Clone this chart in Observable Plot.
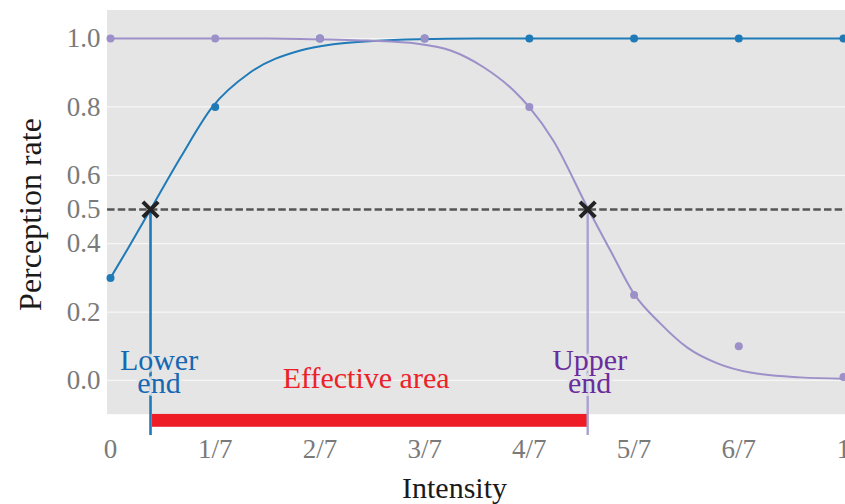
<!DOCTYPE html>
<html>
<head>
<meta charset="utf-8">
<script src="https://cdn.jsdelivr.net/npm/d3@7"></script>
<script src="https://cdn.jsdelivr.net/npm/@observablehq/plot@0.6"></script>
<style>
  html, body { margin: 0; padding: 0; background: #fff; }
  #chart svg { display: block; }
</style>
</head>
<body>
<div id="chart"></div>
<script>
// Stimulus intensities (sevenths) and their tick labels
const intensities = [0, 1/7, 2/7, 3/7, 4/7, 5/7, 6/7, 1];
const intensityLabels = ["0", "1/7", "2/7", "3/7", "4/7", "5/7", "6/7", "1"];

// Observed perception rates
const lowerRates = [0.30, 0.80, 1.00, 1.00, 1.00, 1.00, 1.00, 1.00];
const upperRates = [1.00, 1.00, 1.00, 1.00, 0.80, 0.25, 0.10, 0.01];

// Fitted psychometric curves, sampled along intensity
const lowerFitX = [0, 0.025, 0.0546, 0.0955, 0.139, 0.19, 0.259, 0.304, 0.359, 0.42, 0.5, 0.6, 0.8, 1.0];
const lowerFitY = [0.30, 0.39, 0.50, 0.652, 0.80, 0.90, 0.965, 0.983, 0.993, 0.998, 1.0, 1.0, 1.0, 1.0];
const upperFitX = [0, 0.1, 0.2, 0.259, 0.351, 0.419, 0.464, 0.509, 0.55, 0.571, 0.604, 0.652, 0.682, 0.714, 0.75, 0.787, 0.828, 0.873, 0.941, 1.0];
const upperFitY = [1.0, 1.0, 1.0, 0.999, 0.994, 0.985, 0.965, 0.916, 0.848, 0.80, 0.702, 0.50, 0.38, 0.254, 0.167, 0.096, 0.05, 0.023, 0.009, 0.005];

// Threshold and the intensities where each fit crosses it
const threshold = 0.5;
const lowerEnd = 0.0546;
const upperEnd = 0.651;

// Y axis ticks
const yTicks = [0, 0.2, 0.4, 0.5, 0.6, 0.8, 1.0];
const gridValues = [0, 0.2, 0.4, 0.6, 0.8, 1.0];

const BLUE = "#1f7ab8";
const PURPLE = "#9d90c9";
const BG = "#e5e5e5";

const yMin = -0.161, yMax = 1.082, panelBottom = -0.1;
const xLeft = -0.004, xRight = 1.01;

const lowerPts = intensities.map((x, i) => ({x, y: lowerRates[i]}));
const upperPts = intensities.map((x, i) => ({x, y: upperRates[i]}));
const lowerFit = lowerFitX.map((x, i) => ({x, y: lowerFitY[i]}));
const upperFit = upperFitX.map((x, i) => ({x, y: upperFitY[i]}));

const chart = Plot.plot({
  width: 845,
  height: 504,
  marginTop: 10,
  marginBottom: 69,
  marginLeft: 110,
  marginRight: 2,
  style: {fontFamily: "'Liberation Serif', 'Times New Roman', serif", background: "#fff", overflow: "visible"},
  x: {domain: [0, 1]},
  y: {domain: [yMin, yMax]},
  marks: [
    // panel background
    Plot.rect([0], {x1: xLeft, x2: xRight, y1: panelBottom, y2: yMax, fill: BG}),
    Plot.ruleY(gridValues, {x1: xLeft, x2: xRight, stroke: "#f6f6f6", strokeWidth: 1.3}),
    Plot.ruleY([threshold], {x1: xLeft, x2: xRight, stroke: "#555", strokeWidth: 2.4, strokeDasharray: "7.5,3.2"}),

    // effective area bar
    Plot.rect([0], {x1: lowerEnd, x2: upperEnd, y1: -0.0994, y2: -0.137, fill: "#ee1c25", insetLeft: 2}),

    // drop lines from the threshold crossings
    Plot.ruleX([lowerEnd], {y1: threshold, y2: yMin, stroke: BLUE, strokeWidth: 2.6}),
    Plot.ruleX([upperEnd], {y1: threshold, y2: yMin, stroke: "#a9a1d2", strokeWidth: 2.4}),

    // fitted curves
    Plot.line(lowerFit, {x: "x", y: "y", stroke: BLUE, strokeWidth: 2, curve: "monotone-x"}),
    Plot.line(upperFit, {x: "x", y: "y", stroke: PURPLE, strokeWidth: 2, curve: "monotone-x"}),

    // observations
    Plot.dot(lowerPts, {x: "x", y: "y", r: 4, fill: BLUE, stroke: "none"}),
    Plot.dot(upperPts, {x: "x", y: "y", r: 4, fill: PURPLE, stroke: "none"}),

    // crossing markers
    Plot.dot([{x: lowerEnd, y: threshold}, {x: upperEnd, y: threshold}], {
      x: "x", y: "y", symbol: "times", r: 7, stroke: "#222", strokeWidth: 4
    }),

    // annotations
    Plot.text(["Lower\nend"], {x: lowerEnd, y: -0.038, dx: 8.5, fill: "#1768b2", fontSize: 30,
      lineHeight: 0.77, lineAnchor: "bottom", textAnchor: "middle",
      stroke: BG, strokeOpacity: 0.75, strokeWidth: 6, paintOrder: "stroke"}),
    Plot.text(["Upper\nend"], {x: upperEnd, y: -0.038, dx: 2, fill: "#6b2d9c", fontSize: 30,
      lineHeight: 0.77, lineAnchor: "bottom", textAnchor: "middle",
      stroke: BG, strokeOpacity: 0.75, strokeWidth: 6, paintOrder: "stroke"}),
    Plot.text(["Effective area"], {x: (lowerEnd + upperEnd) / 2, y: -0.023, dx: -3, fill: "#ec2229",
      fontSize: 30, lineAnchor: "bottom", textAnchor: "middle"}),

    // axes
    Plot.axisY({ticks: yTicks, tickFormat: d3.format(".1f"), tickSize: 0, tickPadding: 10,
      fontSize: 27, color: "#7a7a7a", label: null}),
    Plot.axisX({ticks: intensities, tickFormat: d => intensityLabels[Math.round(d * 7)],
      tickSize: 0, tickPadding: 3, fontSize: 27, color: "#7a7a7a", label: null}),

    // axis titles
    Plot.text(["Perception rate"], {frameAnchor: "left", rotate: -90, dx: -80, dy: -8.5,
      fontSize: 32, fill: "#1a1a1a", lineAnchor: "middle", textAnchor: "middle"}),
    Plot.text(["Intensity"], {frameAnchor: "bottom", dx: -22.5, dy: 62,
      fontSize: 30, fill: "#1a1a1a", lineAnchor: "bottom", textAnchor: "middle"})
  ]
});

document.getElementById("chart").appendChild(chart);
</script>
</body>
</html>
